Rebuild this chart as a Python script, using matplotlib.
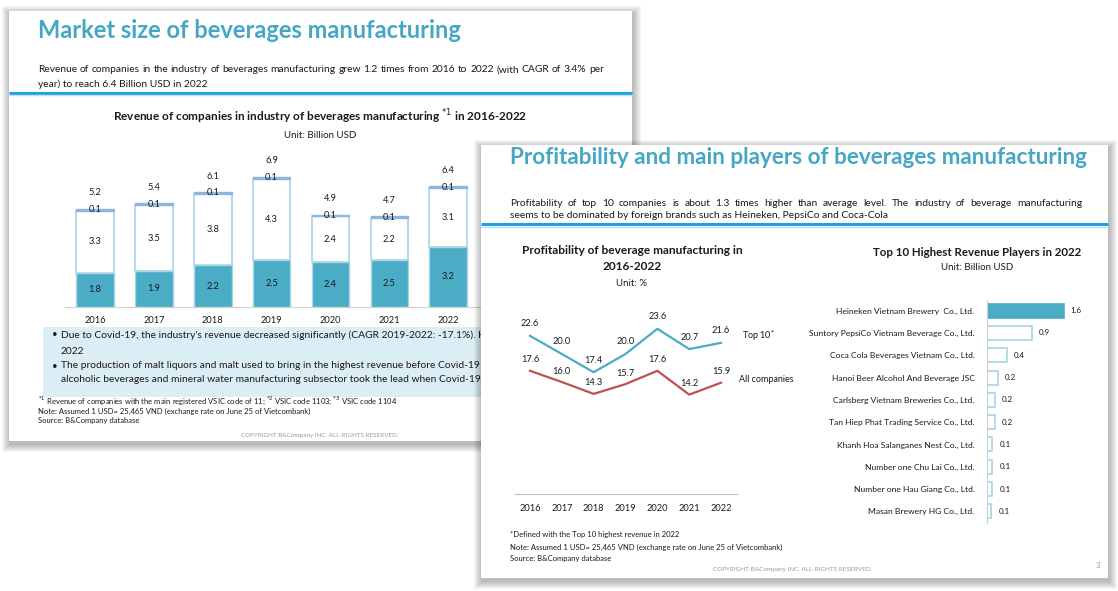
import numpy as np
import matplotlib.pyplot as plt
from matplotlib.patches import Rectangle

plt.rcParams['font.family'] = ['Lato', 'DejaVu Sans']
plt.rcParams['mathtext.fontset'] = 'dejavusans'

# ---------------- data ----------------
years = ['2016', '2017', '2018', '2019', '2020', '2021', '2022']
rev_seg1 = [1.8, 1.9, 2.2, 2.5, 2.4, 2.5, 3.2]
rev_seg2 = [3.3, 3.5, 3.8, 4.3, 2.4, 2.2, 3.1]
rev_seg3 = [0.1, 0.1, 0.1, 0.1, 0.1, 0.1, 0.1]
rev_total = [5.2, 5.4, 6.1, 6.9, 4.9, 4.7, 6.4]

profit_top10 = [22.6, 20.0, 17.4, 20.0, 23.6, 20.7, 21.6]
profit_all = [17.6, 16.0, 14.3, 15.7, 17.6, 14.2, 15.9]

players = ['Heineken Vietnam Brewery  Co., Ltd.',
           'Suntory PepsiCo Vietnam Beverage Co., Ltd.',
           'Coca Cola Beverages Vietnam Co., Ltd.',
           'Hanoi Beer Alcohol And Beverage JSC',
           'Carlsberg Vietnam Breweries Co., Ltd.',
           'Tan Hiep Phat Trading Service Co., Ltd.',
           'Khanh Hoa Salanganes Nest Co., Ltd.',
           'Number one Chu Lai Co., Ltd.',
           'Number one Hau Giang Co., Ltd.',
           'Masan Brewery HG Co., Ltd.']
player_rev = [1.6, 0.93, 0.42, 0.23, 0.17, 0.16, 0.11, 0.11, 0.11, 0.09]

TEAL = '#4BACC6'
TITLE = '#45A7C3'
RULE = '#1FA2DE'
LIGHT = '#A8D6E6'
TOPSEG = '#8DB4E2'
RED = '#C0504D'
TXT = '#1a1a1a'

W, H = 1118, 591
fig = plt.figure(figsize=(W / 100, H / 100), dpi=100)
fig.patch.set_facecolor('white')
renderer = fig.canvas.get_renderer()


def px_axes(x0, y0, x1, y1, z):
    ax = fig.add_axes([x0 / W, 1 - y1 / H, (x1 - x0) / W, (y1 - y0) / H])
    ax.set_zorder(z)
    ax.patch.set_visible(False)
    return ax


def slide(ax, x0, y0, x1, y1):
    for k in range(8, 0, -1):
        ax.add_patch(Rectangle((x0 - k + 1, y0 - k + 3), x1 - x0 + 2 * k, y1 - y0 + 2 * k,
                               color='black', alpha=0.035, lw=0))
    ax.add_patch(Rectangle((x0, y0), x1 - x0, y1 - y0, color='white', lw=0))


def canvas(z):
    ax = px_axes(0, 0, W, H, z)
    ax.set_xlim(0, W)
    ax.set_ylim(H, 0)
    ax.axis('off')
    return ax


def justify(ax, x0, y, line, width, **kw):
    # spread the words of one line over a given pixel width
    words = line.split()
    items = [ax.text(0, y, w, va='center', **kw) for w in words]
    sizes = [t.get_window_extent(renderer).width for t in items]
    gap = (width - sum(sizes)) / (len(words) - 1)
    xx = x0
    for t, s in zip(items, sizes):
        t.set_x(xx)
        xx += s + gap


# ================= slide 1 =================
s1 = canvas(0)
slide(s1, 9, 11, 632, 441)
s1.text(38, 31, 'Market size of beverages manufacturing', color=TITLE,
        fontsize=17, fontweight='bold', va='center')
justify(s1, 38, 70, 'Revenue of companies in the industry of beverages manufacturing grew 1.2 times '
        'from 2016 to 2022 (with CAGR of 3.4% per', 566, fontsize=7.4, color=TXT)
s1.text(38, 84, 'year) to reach 6.4 Billion USD in 2022', fontsize=7.4, color=TXT, va='center')
s1.plot([9, 632], [92.5, 92.5], color=RULE, lw=2.2, solid_capstyle='butt')
s1.plot([9, 632], [95, 95], color='#BFE3F3', lw=1, solid_capstyle='butt')
s1.text(320, 117, r'Revenue of companies in industry of beverages manufacturing $^{*1}$ in 2016-2022',
        fontsize=8.5, fontweight='bold', color=TXT, ha='center', va='center')
s1.text(320, 135, 'Unit: Billion USD', fontsize=7, color=TXT, ha='center', va='center')

s1.add_patch(Rectangle((43, 327), 600, 70, color='#DCEEF5', lw=0))
bullets = [(335, "Due to Covid-19, the industry's revenue decreased significantly (CAGR 2019-2022: -17.1%). H", True),
           (351, '2022', False),
           (366, 'The production of malt liquors and malt used to bring in the highest revenue before Covid-19', True),
           (380, 'alcoholic beverages and mineral water manufacturing subsector took the lead when Covid-19', False)]
for yy, t, dot in bullets:
    if dot:
        s1.text(52, yy, '\u2022', fontsize=7, color=TXT, va='center')
    s1.text(61, yy, t, fontsize=7.35, color=TXT, va='center')

s1.text(38, 401, r'$^{*1}$ Revenue of companies with the main registered VSIC code of 11; $^{*2}$ VSIC code 1103; '
        r'$^{*3}$ VSIC code 1104', fontsize=5.5, color=TXT, va='center')
s1.text(38, 411.5, 'Note: Assumed 1 USD= 25,465 VND (exchange rate on June 25 of Vietcombank)',
        fontsize=5.5, color=TXT, va='center')
s1.text(38, 421, 'Source: B&Company database', fontsize=5.5, color=TXT, va='center')
s1.text(320, 436, 'COPYRIGHT B&Company INC. ALL-RIGHTS RESERVED.', fontsize=4.5,
        color='#999999', ha='center', va='center')

# stacked bar chart
ax1 = px_axes(65, 150, 480, 306.7, 1)
x = np.arange(len(years))
ax1.bar(x, rev_seg1, width=0.64, color=TEAL, edgecolor=LIGHT, lw=1)
b2 = np.array(rev_seg1)
ax1.bar(x, rev_seg2, bottom=b2, width=0.64, color='white', edgecolor=LIGHT, lw=1.2)
b3 = b2 + np.array(rev_seg2)
ax1.bar(x, rev_seg3, bottom=b3, width=0.64, color=TOPSEG, edgecolor=TOPSEG, lw=1)
for i in range(len(years)):
    ax1.text(i, rev_seg1[i] / 2, f'{rev_seg1[i]:.1f}', ha='center', va='center', fontsize=6.7, color=TXT)
    ax1.text(i, b2[i] + rev_seg2[i] / 2, f'{rev_seg2[i]:.1f}', ha='center', va='center', fontsize=6.7, color=TXT)
    ax1.text(i, b3[i] + rev_seg3[i] / 2, f'{rev_seg3[i]:.1f}', ha='center', va='center', fontsize=6.7, color=TXT)
    ax1.annotate(f'{rev_total[i]:.1f}', (i, b3[i] + rev_seg3[i]), xytext=(0, 16),
                 textcoords='offset pixels', ha='center', va='center', fontsize=6.7, color=TXT)
ax1.set_xlim(-0.51, 6.54)
ax1.set_ylim(0, 156.7 / 18.8)
for s in ['top', 'right', 'left']:
    ax1.spines[s].set_visible(False)
ax1.spines['bottom'].set_color('#D0D0D0')
ax1.set_yticks([])
ax1.set_xticks(x, years, fontsize=6.7, color=TXT)
ax1.tick_params(axis='x', length=0, pad=7)

# ================= slide 2 =================
s2 = canvas(2)
slide(s2, 481, 145, 1108, 578)
s2.text(510, 158, 'Profitability and main players of beverages manufacturing', color=TITLE,
        fontsize=16.2, fontweight='bold', va='center')
justify(s2, 510, 203, 'Profitability of top 10 companies is about 1.3 times higher than average level. '
        'The industry of beverage manufacturing', 572, fontsize=7.4, color=TXT)
s2.text(510, 216, 'seems to be dominated by foreign brands such as Heineken, PepsiCo and Coca-Cola',
        fontsize=7.4, color=TXT, va='center')
s2.plot([481, 1108], [224, 224], color=RULE, lw=2.2, solid_capstyle='butt')
s2.plot([481, 1108], [226.5, 226.5], color='#BFE3F3', lw=1, solid_capstyle='butt')

s2.text(632, 251, 'Profitability of beverage manufacturing in', fontsize=8.6, fontweight='bold',
        color=TXT, ha='center', va='center')
s2.text(632, 267, '2016-2022', fontsize=8.6, fontweight='bold', color=TXT, ha='center', va='center')
s2.text(632, 283, 'Unit: %', fontsize=7, color=TXT, ha='center', va='center')
s2.text(977, 252, 'Top 10 Highest Revenue Players in 2022', fontsize=8.3, fontweight='bold',
        color=TXT, ha='center', va='center')
s2.text(977, 268, 'Unit: Billion USD', fontsize=7, color=TXT, ha='center', va='center')

s2.text(510, 535, '*Defined with the Top 10 highest revenue in 2022', fontsize=5.5, color=TXT, va='center')
s2.text(510, 547, 'Note: Assumed 1 USD= 25,465 VND (exchange rate on June 25 of Vietcombank)',
        fontsize=5.5, color=TXT, va='center')
s2.text(510, 558, 'Source: B&Company database', fontsize=5.5, color=TXT, va='center')
s2.text(793, 569, 'COPYRIGHT B&Company INC. ALL-RIGHTS RESERVED.', fontsize=4.6,
        color='#999999', ha='center', va='center')
s2.text(1098, 566, '3', fontsize=5.5, color='#999999', ha='center', va='center')

# line chart
ax2 = px_axes(515, 300, 737, 494, 3)
ax2.plot(x, profit_top10, color=TEAL, lw=1.6)
ax2.plot(x, profit_all, color=RED, lw=1.6)
for i in range(len(years)):
    ax2.annotate(f'{profit_top10[i]:.1f}', (i, profit_top10[i]), xytext=(0, 12),
                 textcoords='offset pixels', ha='center', va='center', fontsize=6.7, color=TXT)
    ax2.annotate(f'{profit_all[i]:.1f}', (i, profit_all[i]), xytext=(0, 11),
                 textcoords='offset pixels', ha='center', va='center', fontsize=6.7, color=TXT)
ax2.annotate(r'Top 10$^{*}$', (6, profit_top10[-1]), xytext=(21, 7), textcoords='offset pixels',
             ha='left', va='center', fontsize=6.5, color=TXT)
ax2.annotate('All companies', (6, profit_all[-1]), xytext=(18, 3), textcoords='offset pixels',
             ha='left', va='center', fontsize=6.5, color=TXT)
ax2.set_xlim(-0.47, 6.5)
ax2.set_ylim(0, 194 / 7)
for s in ['top', 'right', 'left']:
    ax2.spines[s].set_visible(False)
ax2.spines['bottom'].set_color('#BBBBBB')
ax2.set_yticks([])
ax2.set_xticks(x, years, fontsize=6.7, color=TXT)
ax2.tick_params(axis='x', length=0, pad=7)

# horizontal bar chart
ax3 = px_axes(987, 299.5, 1100, 522.5, 3)
y = np.arange(len(players))
cols = [TEAL] + ['white'] * (len(players) - 1)
edges = [TEAL] + [LIGHT] * (len(players) - 1)
ax3.barh(y, player_rev, height=0.63, color=cols, edgecolor=edges, lw=1.2)
for i, v in enumerate(player_rev):
    ax3.annotate(f'{v:.1f}', (v, i), xytext=(7, 0), textcoords='offset pixels',
                 ha='left', va='center', fontsize=5.8, color=TXT)
ax3.set_ylim(len(players) - 0.5, -0.5)
ax3.set_xlim(0, 113 / 48)
for s in ['top', 'right', 'bottom']:
    ax3.spines[s].set_visible(False)
ax3.spines['left'].set_color('#D0D0D0')
ax3.set_xticks([])
ax3.set_yticks(y, players, fontsize=6.1, color=TXT)
ax3.tick_params(axis='y', length=0, pad=9)

fig.savefig('out.png', dpi=100)
